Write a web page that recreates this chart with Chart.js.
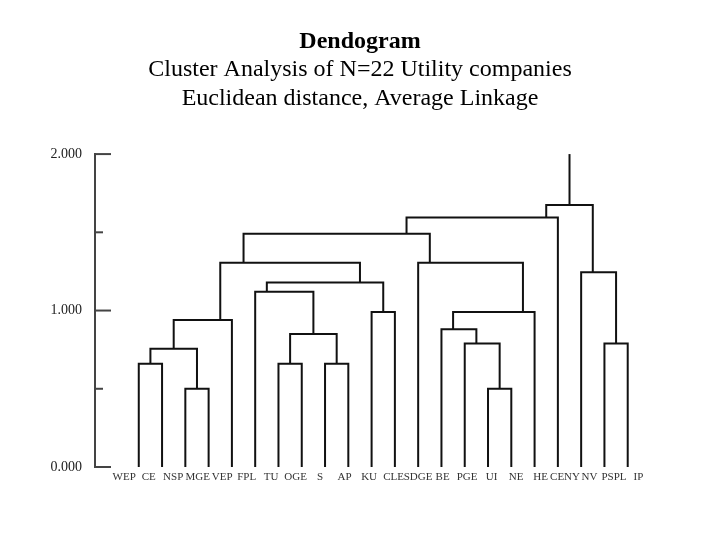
<!DOCTYPE html>
<html>
<head>
<meta charset="utf-8">
<script src="https://cdn.jsdelivr.net/npm/chart.js@4.4.0/dist/chart.umd.min.js"></script>
<style>
  html, body { margin: 0; padding: 0; background: #fff; }
  #wrap { width: 720px; height: 540px; }
</style>
</head>
<body>
<div id="wrap"><canvas id="dendro" width="720" height="540"></canvas></div>
<script>
// leaves in plotted order
const LEAVES = ['WEP', 'CE', 'NSP', 'MGE', 'VEP', 'FPL', 'TU', 'OGE', 'S', 'AP', 'KU', 'CLE',
                'SDGE', 'BE', 'PGE', 'UI', 'NE', 'HE', 'CENY', 'NV', 'PSPL', 'IP'];

// merges: leaves are 0..21, merge k makes node 22+k
const MERGE_LEFT   = [0, 2, 22, 24, 6, 8, 26, 5, 10, 29, 25, 15, 14, 13, 35, 12, 32, 38, 20, 19, 39];
const MERGE_RIGHT  = [1, 3, 23, 4, 7, 9, 27, 28, 11, 30, 31, 16, 33, 34, 17, 36, 37, 18, 21, 40, 41];
const MERGE_HEIGHT = [0.66, 0.50, 0.755, 0.94, 0.66, 0.66, 0.85, 1.12, 0.99, 1.18, 1.305,
                      0.50, 0.79, 0.88, 0.99, 1.305, 1.49, 1.595, 0.79, 1.245, 1.675];

const Y_MAX = 2.0;
const Y_STEP = 0.5;

const SERIF = '"Liberation Serif", "Times New Roman", serif';

// stem of a node sits at the split between its two children
function buildLinks() {
    let lastLeaf = [], stemX = [], height = [];
    LEAVES.forEach((l, i) => { lastLeaf[i] = i; stemX[i] = i; height[i] = 0; });
    let sets = [];
    MERGE_LEFT.forEach((L, k) => {
        let R = MERGE_RIGHT[k];
        let node = LEAVES.length + k;
        let h = MERGE_HEIGHT[k];
        stemX[node] = lastLeaf[L] + 0.5;
        lastLeaf[node] = lastLeaf[R];
        height[node] = h;
        sets.push([
            { x: stemX[L], y: height[L] },
            { x: stemX[L], y: h },
            { x: stemX[R], y: h },
            { x: stemX[R], y: height[R] }
        ]);
    });
    let root = LEAVES.length + MERGE_LEFT.length - 1;
    sets.push([{ x: stemX[root], y: height[root] }, { x: stemX[root], y: Y_MAX }]);
    return sets;
}

// y axis tick marks point into the plot
const inwardTicks = {
    id: 'inwardTicks',
    afterDraw(chart) {
        const ys = chart.scales.y;
        const ctx = chart.ctx;
        const x0 = chart.chartArea.left;
        ctx.save();
        ctx.strokeStyle = '#444';
        ctx.lineWidth = 2;
        ys.ticks.forEach(t => {
            let py = ys.getPixelForValue(t.value);
            let len = (t.value % 1 === 0) ? 16 : 8;
            ctx.beginPath();
            ctx.moveTo(x0 - 1, py);
            ctx.lineTo(x0 + len, py);
            ctx.stroke();
        });
        ctx.restore();
    }
};

let datasets = buildLinks().map(pts => ({
    data: pts,
    showLine: true,
    borderColor: '#111',
    borderWidth: 2,
    pointRadius: 0,
    tension: 0,
    xAxisID: 'x',
    yAxisID: 'y'
}));

new Chart(document.getElementById('dendro'), {
    type: 'scatter',
    data: { datasets: datasets },
    plugins: [inwardTicks],
    options: {
        responsive: false,
        animation: false,
        layout: { padding: { left: 0, right: 0, top: 0, bottom: 53 } },
        plugins: {
            legend: { display: false },
            tooltip: { enabled: false },
            title: {
                display: true,
                text: 'Dendogram',
                color: '#000',
                font: { family: SERIF, size: 24, weight: 'bold', lineHeight: 1.0 },
                padding: { top: 30, bottom: 0 }
            },
            subtitle: {
                display: true,
                text: ['Cluster Analysis of N=22 Utility companies', 'Euclidean distance, Average Linkage'],
                color: '#000',
                font: { family: SERIF, size: 24, lineHeight: 1.21 },
                padding: { top: 1, bottom: 41 }
            }
        },
        scales: {
            x: {
                type: 'linear',
                display: false,
                min: -1.88,
                max: 22
            },
            xl: {
                type: 'linear',
                position: 'bottom',
                min: -1.193,
                max: 21.51,
                afterBuildTicks: s => { s.ticks = LEAVES.map((l, i) => ({ value: i })); },
                afterFit: s => { s.height = 20; },
                grid: { display: false },
                border: { display: false },
                ticks: {
                    autoSkip: false,
                    maxRotation: 0,
                    padding: -4,
                    color: '#333',
                    font: { family: SERIF, size: 11 },
                    callback: v => LEAVES[v]
                }
            },
            y: {
                type: 'linear',
                position: 'left',
                min: 0,
                max: Y_MAX,
                afterFit: s => { s.width = 95; },
                grid: { drawOnChartArea: false, drawTicks: false },
                border: { display: true, color: '#444', width: 2 },
                ticks: {
                    stepSize: Y_STEP,
                    padding: 13,
                    color: '#222',
                    font: { family: SERIF, size: 14 },
                    callback: v => (v % 1 === 0 ? v.toFixed(3) : '')
                }
            },
            // empty right margin so the titles stay centred on the page
            yr: {
                type: 'linear',
                position: 'right',
                min: 0,
                max: Y_MAX,
                afterFit: s => { s.width = 69; },
                grid: { display: false },
                border: { display: false },
                ticks: { display: false }
            }
        }
    }
});
</script>
</body>
</html>
